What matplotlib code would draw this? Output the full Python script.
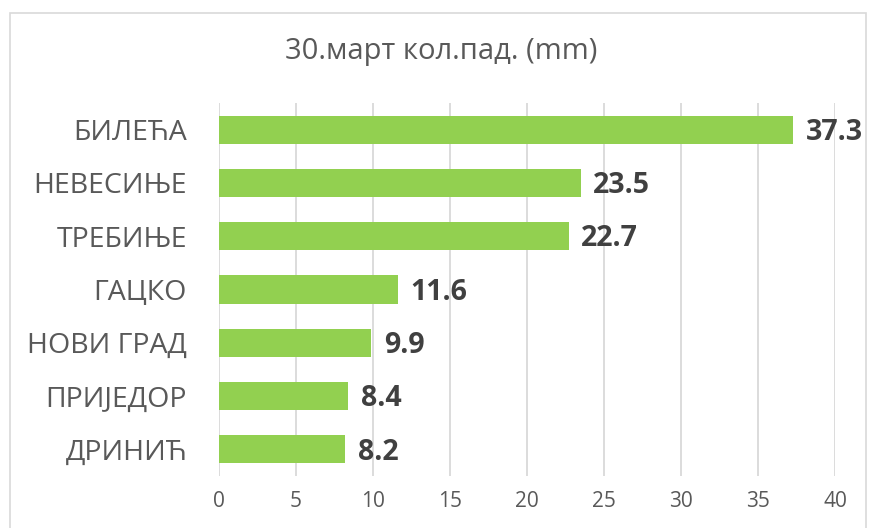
import matplotlib
matplotlib.use("Agg")
import matplotlib.pyplot as plt
from matplotlib.patches import Rectangle

categories = ["БИЛЕЋА", "НЕВЕСИЊЕ", "ТРЕБИЊЕ", "ГАЦКО", "НОВИ ГРАД", "ПРИЈЕДОР", "ДРИНИЋ"]
values = [37.3, 23.5, 22.7, 11.6, 9.9, 8.4, 8.2]
xticks = [0, 5, 10, 15, 20, 25, 30, 35, 40]
title = "30.март кол.пад. (mm)"

plt.rcParams['font.family'] = ['Open Sans', 'DejaVu Sans']

fig = plt.figure(figsize=(8.72, 5.28), dpi=100)
fig.patches.append(Rectangle((10/872, -0.01), (866-10)/872, 1 - 13/528 + 0.01,
                             transform=fig.transFigure, fill=False,
                             edgecolor="#d9d9d9", linewidth=1.2))
ax = fig.add_axes([219/872, 1 - 476/528, (835-219)/872, (476-103)/528])

ypos = list(range(len(categories)))
ax.barh(ypos, values, height=0.53, color="#92d050", zorder=3)
ax.set_ylim(len(categories) - 0.5, -0.5)
ax.set_xlim(0, 40)
ax.set_xticks(xticks)
ax.set_xticklabels([str(t) for t in xticks], fontsize=15, color="#595959")
ax.set_yticks(ypos)
ax.set_yticklabels(categories, fontsize=20.5, color="#595959")
ax.tick_params(axis='both', length=0)
ax.tick_params(axis='x', pad=11)
ax.tick_params(axis='y', pad=23)
ax.grid(axis='x', color="#d9d9d9", linewidth=1.3, zorder=0)
for s in ax.spines.values():
    s.set_visible(False)

for y, v in zip(ypos, values):
    ax.annotate(f"{v}", (v, y), xytext=(9, -2), textcoords="offset points",
                ha="left", va="center", fontsize=20.5, fontweight="bold", color="#404040")

fig.text(441/872, 1 - 52/528, title, ha="center", va="center", fontsize=21, color="#595959")

fig.savefig("out.png", dpi=100)
